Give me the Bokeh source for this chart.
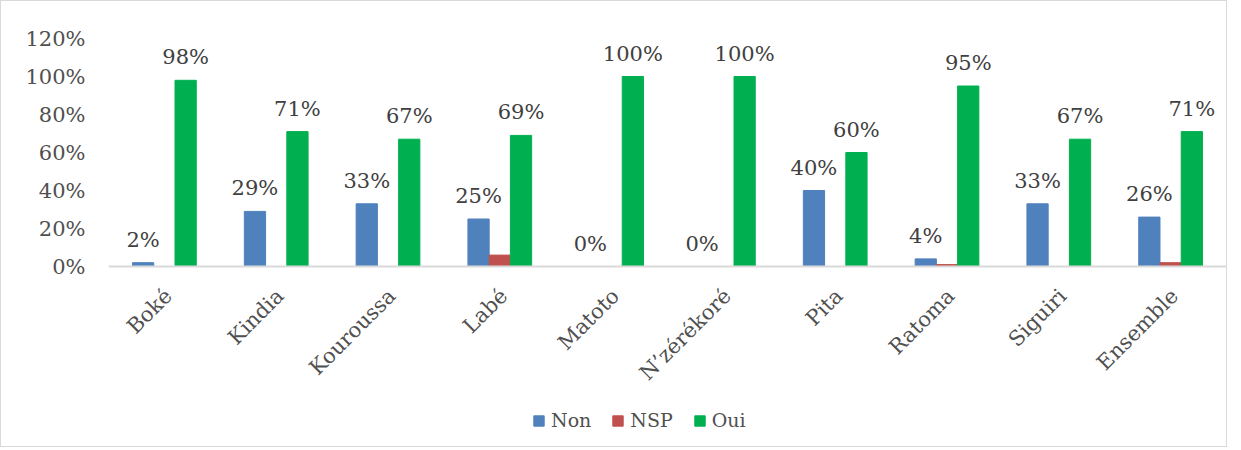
from bokeh.plotting import figure
from bokeh.models import ColumnDataSource, FactorRange, Legend, LegendItem, NumeralTickFormatter, FixedTicker, Span
from bokeh.transform import dodge
from bokeh.core.properties import value
from bokeh.embed import file_html
from bokeh.resources import INLINE
import math

categories = ["Boké", "Kindia", "Kouroussa", "Labé", "Matoto", "N’zérékoré", "Pita", "Ratoma", "Siguiri", "Ensemble"]
non = [0.02, 0.29, 0.33, 0.25, 0.0, 0.0, 0.40, 0.04, 0.33, 0.26]
nsp = [0.0, 0.0, 0.0, 0.06, 0.0, 0.0, 0.0, 0.01, 0.0, 0.02]
oui = [0.98, 0.71, 0.67, 0.69, 1.00, 1.00, 0.60, 0.95, 0.67, 0.71]
y_ticks = [0, 0.2, 0.4, 0.6, 0.8, 1.0, 1.2]

FONT = "DejaVu Serif"
TXT = "#404040"
LBL = "#505050"

src = ColumnDataSource(dict(
    cat=categories, non=non, nsp=nsp, oui=oui,
    zero=[0] * len(categories),
    non_lbl=[f"{round(v*100)}%" for v in non],
    oui_lbl=[f"{round(v*100)}%" for v in oui],
))

# frame extends below the baseline so that category labels and legend stay inside it
PX_PER_UNIT = 190
BELOW_PX = 180
p = figure(x_range=FactorRange(*categories, range_padding=0),
           y_range=(-BELOW_PX / PX_PER_UNIT, 1.2),
           frame_width=1118, frame_height=int(1.2 * PX_PER_UNIT) + BELOW_PX,
           min_border_left=107, min_border_top=37, min_border_bottom=0, min_border_right=0,
           output_backend="svg", toolbar_location=None)
p.styles = {"border": "1px solid #d9d9d9"}

p.add_layout(Span(location=0, dimension="width", line_color="#d9d9d9", line_width=2))

w = 0.19
r1 = p.vbar(x=dodge("cat", -w, range=p.x_range), top="non", width=w, source=src, color="#4F81BD")
r2 = p.vbar(x=dodge("cat", 0, range=p.x_range), top="nsp", width=w, source=src, color="#C0504D")
r3 = p.vbar(x=dodge("cat", w, range=p.x_range), top="oui", width=w, source=src, color="#00B050")

for col, lbl, off in (("non", "non_lbl", -w), ("oui", "oui_lbl", w)):
    p.text(x=dodge("cat", off, range=p.x_range), y=col, text=lbl, source=src,
           text_align="center", text_baseline="bottom", y_offset=-11,
           text_font=value(FONT), text_font_size="21px", text_color=TXT)

# category labels, rotated 45 degrees
p.text(x="cat", y="zero", text="cat", source=src, angle=math.pi / 4,
       text_align="right", text_baseline="middle", x_offset=4, y_offset=26,
       text_font=value(FONT), text_font_size="21px", text_color=LBL)

p.xgrid.grid_line_color = None
p.ygrid.grid_line_color = None
p.outline_line_color = None
p.xaxis.visible = False

p.yaxis.ticker = FixedTicker(ticks=y_ticks)
p.yaxis.formatter = NumeralTickFormatter(format="0%")
p.yaxis.axis_line_color = None
p.yaxis.major_tick_line_color = None
p.yaxis.minor_tick_line_color = None
p.yaxis.major_label_text_font = FONT
p.yaxis.major_label_text_font_size = "21px"
p.yaxis.major_label_text_color = LBL
p.yaxis.major_label_standoff = 17

legend = Legend(items=[LegendItem(label="Non", renderers=[r1]),
                       LegendItem(label="NSP", renderers=[r2]),
                       LegendItem(label="Oui", renderers=[r3])],
                orientation="horizontal", location=(424, 15),
                label_text_font=FONT, label_text_font_size="19px", label_text_color=LBL,
                glyph_width=13, glyph_height=13, spacing=20, label_standoff=6,
                background_fill_alpha=0, border_line_color=None, padding=0, margin=0)
p.add_layout(legend, "center")

open("out.html", "w").write(file_html(p, INLINE))
